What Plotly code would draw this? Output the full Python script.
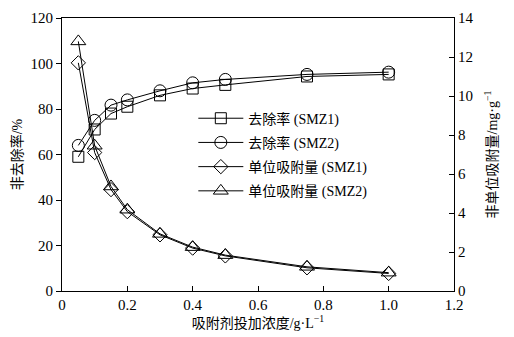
import plotly.graph_objects as go

dose = [0.05, 0.1, 0.15, 0.2, 0.3, 0.4, 0.5, 0.75, 1.0]
removal_smz1 = [59, 71, 78, 81, 86, 89, 90.6, 94.3, 95.2]
removal_smz2 = [64, 75, 81.7, 84, 88, 91.5, 93, 95.2, 96.2]
uptake_smz1 = [11.7, 7.1, 5.2, 4.07, 2.88, 2.2, 1.8, 1.19, 0.9]
uptake_smz2 = [12.8, 7.45, 5.36, 4.17, 2.93, 2.25, 1.84, 1.24, 0.94]

names = ["去除率 (SMZ1)", "去除率 (SMZ2)", "单位吸附量 (SMZ1)", "单位吸附量 (SMZ2)"]
symbols = ["square-open", "circle-open", "diamond-open", "triangle-up-open"]

font_family = "Liberation Serif, Noto Sans CJK SC, serif"

fig = go.Figure()
series = [(removal_smz1, "y"), (removal_smz2, "y"), (uptake_smz1, "y2"), (uptake_smz2, "y2")]
sizes = [11, 12, 11, 13]
for i, ((vals, ax), nm, sym, sz) in enumerate(zip(series, names, symbols, sizes)):
    fig.add_trace(go.Scatter(
        x=dose, y=vals, yaxis=ax, name=nm, mode="lines+markers", legendgroup=f"g{i}",
        line=dict(color="black", width=1),
        marker=dict(symbol=sym, size=sz, color="black", line=dict(width=1, color="black")),
    ))

fig.update_layout(
    width=514, height=337,
    margin=dict(l=62, r=60, t=10, b=45),
    paper_bgcolor="white", plot_bgcolor="white",
    font=dict(family=font_family, size=15, color="black"),
    showlegend=True,
    legend=dict(x=0.335, y=0.69, xanchor="left", yanchor="top",
                bgcolor="rgba(0,0,0,0)", font=dict(size=14),
                itemwidth=45, tracegroupgap=3),
    xaxis=dict(range=[0, 1.2], tickvals=[0, 0.2, 0.4, 0.6, 0.8, 1.0, 1.2],
               ticktext=["0", "0.2", "0.4", "0.6", "0.8", "1.0", "1.2"],
               showline=True, linecolor="black", linewidth=1, mirror=True,
               ticks="inside", ticklen=5, tickcolor="black", showgrid=False, zeroline=False,
               title=dict(text="吸附剂投加浓度/g·L<sup>−1</sup>", font=dict(size=14), standoff=4)),
    yaxis=dict(range=[0, 120], tickvals=[0, 20, 40, 60, 80, 100, 120],
               showline=True, linecolor="black", linewidth=1,
               ticks="outside", ticklen=5, tickcolor="black", showgrid=False, zeroline=False,
               title=dict(text="非去除率/%", font=dict(size=14), standoff=4)),
    yaxis2=dict(range=[0, 14], tickvals=[0, 2, 4, 6, 8, 10, 12, 14],
                overlaying="y", side="right",
                showline=True, linecolor="black", linewidth=1,
                ticks="inside", ticklen=5, tickcolor="black", showgrid=False, zeroline=False,
                title=dict(text="非单位吸附量/mg·g<sup>−1</sup>", font=dict(size=14), standoff=14)),
)

fig.write_html("out.html")
